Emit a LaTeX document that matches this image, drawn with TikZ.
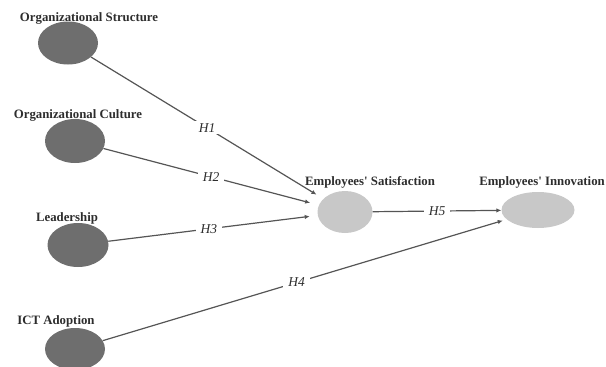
\documentclass[tikz,border=0pt]{standalone}
\usepackage{fontspec}
\setmainfont{Liberation Serif}
\usetikzlibrary{shapes.geometric,arrows.meta}
\definecolor{darkfill}{RGB}{110,110,110}
\definecolor{lightfill}{RGB}{200,200,200}
\definecolor{linegray}{RGB}{85,85,85}
\definecolor{textgray}{RGB}{45,45,45}
\tikzset{
  darkvar/.style={ellipse, fill=darkfill, draw=none, inner sep=0pt},
  lightvar/.style={ellipse, fill=lightfill, draw=none, inner sep=0pt},
  varlabel/.style={font=\fontsize{12.8}{14}\selectfont\bfseries, text=textgray, inner sep=0pt},
  hyp/.style={font=\fontsize{13.5}{15}\selectfont\itshape, text=textgray, fill=white, inner xsep=5pt, inner ysep=2pt},
  conn/.style={draw=linegray, line width=1.2pt, -{Latex[length=5pt,width=4.5pt]}},
}
\begin{document}
\begin{tikzpicture}[x=1pt,y=-1pt]
\useasboundingbox (0,0) rectangle (606,367);
% latent variables
\node[darkvar, minimum width=60pt, minimum height=43pt] (os) at (68,43) {};
\node[darkvar, minimum width=60pt, minimum height=44pt] (oc) at (75,141) {};
\node[darkvar, minimum width=61pt, minimum height=44pt] (ld) at (78,245) {};
\node[darkvar, minimum width=60pt, minimum height=42pt] (ict) at (75,349) {};
\node[lightvar, minimum width=55pt, minimum height=42pt] (es) at (345,212) {};
\node[lightvar, minimum width=73pt, minimum height=36pt] (ei) at (538,210) {};
% labels
\node[varlabel] (osl) at (89,18) {Organizational Structure};
\node[varlabel] (ocl) at (78,115) {Organizational Culture};
\node[varlabel] (ldl) at (67,218) {Leadership};
\node[varlabel] (ictl) at (56,321) {ICT Adoption};
\node[varlabel] (esl) at (370,182) {Employees\textquotesingle\ Satisfaction};
\node[varlabel, anchor=east] (eil) at (605,182) {Employees\textquotesingle\ Innovation};
% paths
\draw[conn, shorten >=8pt] (os) -- node[hyp, pos=0.5] {H1} (es);
\draw[conn, shorten >=9pt] (oc) -- node[hyp, pos=0.5] {H2} (es);
\draw[conn, shorten >=8pt] (ld) -- node[hyp, pos=0.48] {H3} (es);
\draw[conn, shorten >=4pt] (ict) -- node[hyp, pos=0.48] {H4} (ei);
\draw[conn] (es) -- node[hyp, pos=0.5] {H5} (ei);
\end{tikzpicture}
\end{document}
